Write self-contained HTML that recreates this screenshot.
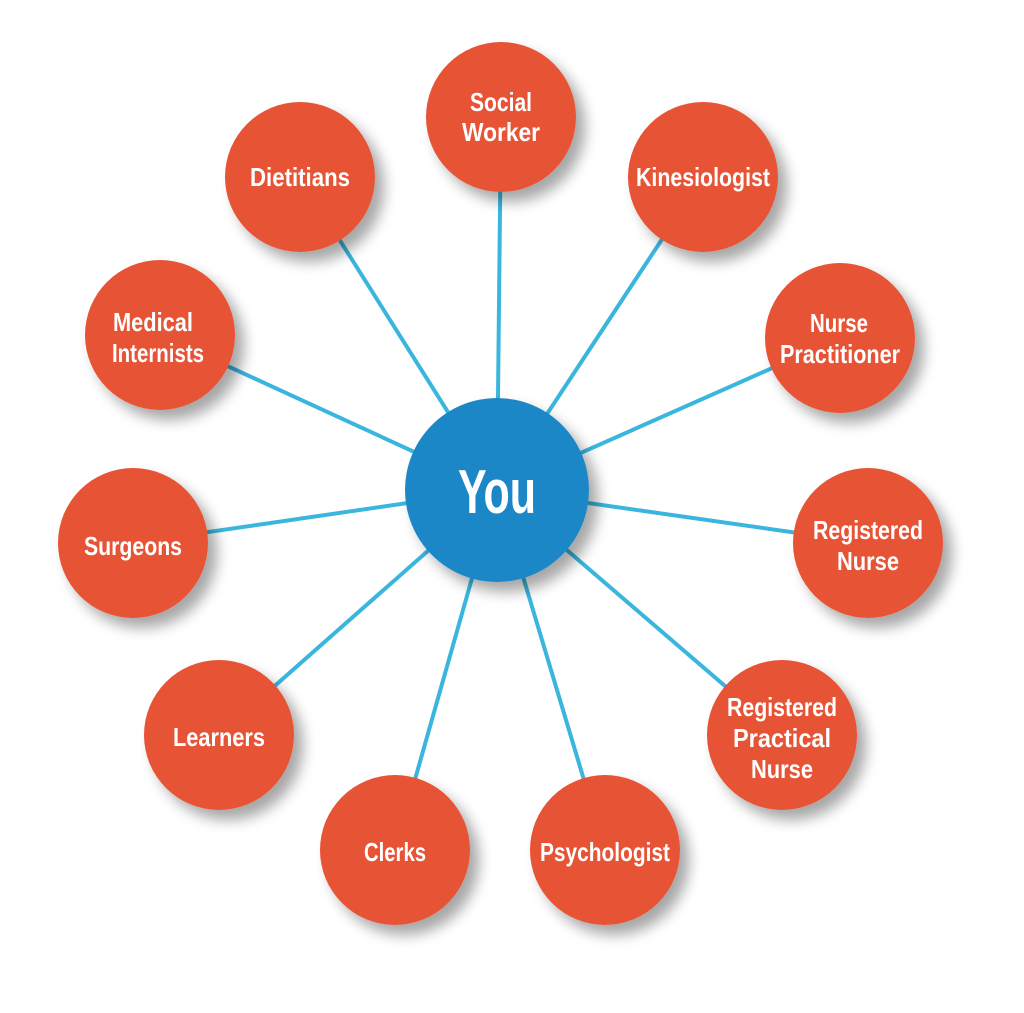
<!DOCTYPE html>
<html><head><meta charset="utf-8"><style>
html,body{margin:0;padding:0;background:#fff;}
body{width:1024px;height:1008px;overflow:hidden;}
text{font-family:"Liberation Sans",sans-serif;font-weight:bold;fill:#fff;text-anchor:middle;}
</style></head><body>
<svg width="1024" height="1008" viewBox="0 0 1024 1008" xmlns="http://www.w3.org/2000/svg">
<defs>
<filter id="sh" x="-30%" y="-30%" width="170%" height="170%">
<feGaussianBlur in="SourceAlpha" stdDeviation="7"/>
<feOffset dx="9" dy="10" result="b"/>
<feComponentTransfer><feFuncA type="linear" slope="0.35"/></feComponentTransfer>
<feMerge><feMergeNode/><feMergeNode in="SourceGraphic"/></feMerge>
</filter>
</defs>
<g stroke="#3AB6DE" stroke-width="4">
<line x1="497" y1="490" x2="501" y2="117"/>
<line x1="497" y1="490" x2="703" y2="177"/>
<line x1="497" y1="490" x2="300" y2="177"/>
<line x1="497" y1="490" x2="160" y2="335"/>
<line x1="497" y1="490" x2="840" y2="338"/>
<line x1="497" y1="490" x2="133" y2="543"/>
<line x1="497" y1="490" x2="868" y2="543"/>
<line x1="497" y1="490" x2="219" y2="735"/>
<line x1="497" y1="490" x2="782" y2="735"/>
<line x1="497" y1="490" x2="395" y2="850"/>
<line x1="497" y1="490" x2="605" y2="850"/>
</g>
<g fill="#E75335" filter="url(#sh)">
<circle cx="501" cy="117" r="75"/>
<circle cx="703" cy="177" r="75"/>
<circle cx="300" cy="177" r="75"/>
<circle cx="160" cy="335" r="75"/>
<circle cx="840" cy="338" r="75"/>
<circle cx="133" cy="543" r="75"/>
<circle cx="868" cy="543" r="75"/>
<circle cx="219" cy="735" r="75"/>
<circle cx="782" cy="735" r="75"/>
<circle cx="395" cy="850" r="75"/>
<circle cx="605" cy="850" r="75"/>
</g>
<circle cx="497" cy="490" r="92" fill="#1E87C6" filter="url(#sh)"/>
<g font-size="26">
<text x="501" y="111" textLength="62" lengthAdjust="spacingAndGlyphs">Social</text>
<text x="501" y="141" textLength="78" lengthAdjust="spacingAndGlyphs">Worker</text>
<text x="703" y="186" textLength="134" lengthAdjust="spacingAndGlyphs">Kinesiologist</text>
<text x="300" y="186" textLength="100" lengthAdjust="spacingAndGlyphs">Dietitians</text>
<text x="153" y="331" textLength="80" lengthAdjust="spacingAndGlyphs">Medical</text>
<text x="158" y="362" textLength="92" lengthAdjust="spacingAndGlyphs">Internists</text>
<text x="839" y="332" textLength="58" lengthAdjust="spacingAndGlyphs">Nurse</text>
<text x="840" y="363" textLength="120" lengthAdjust="spacingAndGlyphs">Practitioner</text>
<text x="133" y="555" textLength="98" lengthAdjust="spacingAndGlyphs">Surgeons</text>
<text x="868" y="539" textLength="110" lengthAdjust="spacingAndGlyphs">Registered</text>
<text x="868" y="570" textLength="62" lengthAdjust="spacingAndGlyphs">Nurse</text>
<text x="219" y="746" textLength="92" lengthAdjust="spacingAndGlyphs">Learners</text>
<text x="782" y="716" textLength="110" lengthAdjust="spacingAndGlyphs">Registered</text>
<text x="782" y="747" textLength="98" lengthAdjust="spacingAndGlyphs">Practical</text>
<text x="782" y="778" textLength="62" lengthAdjust="spacingAndGlyphs">Nurse</text>
<text x="395" y="861" textLength="62" lengthAdjust="spacingAndGlyphs">Clerks</text>
<text x="605" y="861" textLength="130" lengthAdjust="spacingAndGlyphs">Psychologist</text>
</g>
<text x="497" y="513" font-size="62" textLength="78" lengthAdjust="spacingAndGlyphs">You</text>
</svg>
</body></html>
